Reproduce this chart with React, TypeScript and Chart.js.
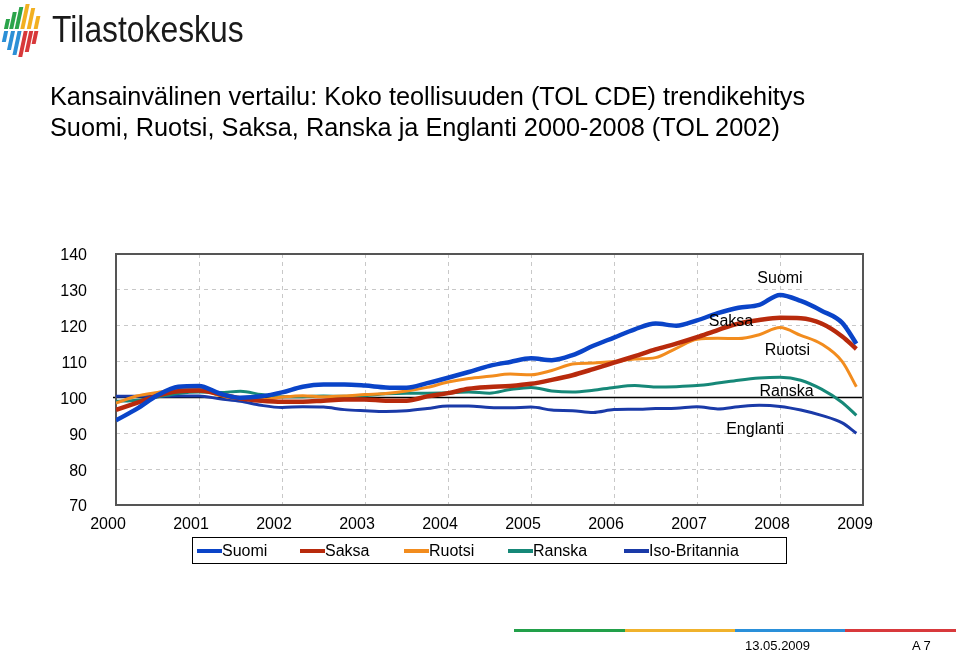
import React, { useEffect, useRef } from "react";
import { Chart, registerables } from "chart.js";

Chart.register(...registerables);

// ---- data -------------------------------------------------------------
const periods = [
  2000, 2000.25, 2000.5, 2000.75, 2001, 2001.25, 2001.5, 2001.75,
  2002, 2002.25, 2002.5, 2002.75, 2003, 2003.25, 2003.5, 2003.75,
  2004, 2004.25, 2004.5, 2004.75, 2005, 2005.25, 2005.5, 2005.75,
  2006, 2006.25, 2006.5, 2006.75, 2007, 2007.25, 2007.5, 2007.75,
  2008, 2008.25, 2008.5, 2008.75, 2008.92,
];

const suomi = [
  93.6, 96.8, 100.6, 103.0, 103.2, 101.1, 99.9, 100.3, 101.4, 103.0, 103.6, 103.6,
  103.3, 102.8, 102.7, 104.0, 105.5, 107.1, 108.8, 109.9, 110.9, 110.4, 111.8, 114.4,
  116.7, 119.0, 120.6, 120.0, 121.5, 123.5, 125.0, 125.8, 128.6, 126.9, 124.2, 120.8, 115.0,
];
const saksa = [
  96.5, 98.5, 100.5, 101.7, 101.9, 100.9, 99.7, 99.1, 98.8, 98.8, 99.1, 99.4,
  99.4, 99.1, 99.1, 100.3, 101.2, 102.4, 102.9, 103.2, 103.8, 104.9, 106.2, 107.9,
  109.7, 111.5, 113.4, 115.0, 116.8, 118.8, 120.6, 121.6, 122.2, 122.1, 120.6, 117.0, 113.5,
];
const ruotsi = [
  98.4, 100.4, 101.4, 102.2, 102.3, 100.5, 99.6, 99.4, 100.1, 100.5, 100.2, 100.4,
  100.8, 101.1, 101.8, 102.8, 104.3, 105.3, 105.9, 106.5, 106.3, 107.5, 109.3, 109.6,
  110.0, 110.7, 111.1, 113.7, 116.2, 116.5, 116.4, 117.5, 119.5, 117.3, 114.9, 110.0, 103.0,
];
const ranska = [
  98.9, 99.2, 100.1, 101.1, 101.5, 101.4, 101.7, 100.8, 100.2, 100.2, 100.4, 100.3,
  100.5, 101.0, 101.2, 101.2, 101.3, 101.5, 101.2, 102.2, 102.8, 101.8, 101.5, 102.0,
  102.8, 103.3, 102.9, 103.0, 103.3, 104.0, 104.8, 105.4, 105.6, 104.8, 102.3, 98.6, 95.0,
];
const englanti = [
  100.3, 100.3, 100.3, 100.4, 100.4, 99.6, 98.9, 97.8, 97.2, 97.4, 97.3, 96.6,
  96.3, 96.1, 96.3, 96.9, 97.6, 97.6, 97.2, 97.1, 97.3, 96.5, 96.3, 95.8,
  96.6, 96.7, 96.9, 97.0, 97.4, 96.8, 97.4, 97.8, 97.5, 96.5, 95.0, 92.9, 90.0,
];

const seriesNames = ["Suomi", "Saksa", "Ruotsi", "Ranska", "Iso-Britannia"];
const seriesValues = [suomi, saksa, ruotsi, ranska, englanti];
const seriesColors = ["#0a44c8", "#b82a0c", "#f28c1e", "#168878", "#1a3aa8"];
const seriesWidths = [4.5, 4.5, 3, 3, 3];

const yearTicks = [2000, 2001, 2002, 2003, 2004, 2005, 2006, 2007, 2008, 2009];
const valueTicks = [70, 80, 90, 100, 110, 120, 130, 140];

const lineLabels = ["Suomi", "Saksa", "Ruotsi", "Ranska", "Englanti"];
const lineLabelYears = [2008.0, 2007.41, 2008.09, 2008.08, 2007.7];
const lineLabelValues = [133.1, 121.1, 113.1, 101.5, 91.0];

const titleLines = [
  "Kansainvälinen vertailu: Koko teollisuuden (TOL CDE) trendikehitys",
  "Suomi, Ruotsi, Saksa, Ranska ja Englanti 2000-2008 (TOL 2002)",
];

const FONT = '"Liberation Sans", Arial, Helvetica, sans-serif';

const framePlugin = {
  id: "frame",
  beforeDatasetsDraw(chart: any) {
    const { ctx, chartArea: a, scales } = chart;
    const y100 = scales.y.getPixelForValue(100);
    ctx.save();
    ctx.strokeStyle = "#000";
    ctx.lineWidth = 1.5;
    ctx.beginPath();
    ctx.moveTo(a.left - 3, y100);
    ctx.lineTo(a.right, y100);
    ctx.stroke();
    ctx.strokeStyle = "#555";
    ctx.lineWidth = 2;
    ctx.strokeRect(a.left, a.top, a.right - a.left, a.bottom - a.top);
    ctx.restore();
  },
  afterDatasetsDraw(chart: any) {
    const { ctx, scales } = chart;
    ctx.save();
    ctx.fillStyle = "#000";
    ctx.font = "16px " + FONT;
    ctx.textAlign = "center";
    ctx.textBaseline = "middle";
    lineLabels.forEach((t, i) => {
      ctx.fillText(
        t,
        scales.x.getPixelForValue(lineLabelYears[i]),
        scales.y.getPixelForValue(lineLabelValues[i])
      );
    });
    ctx.restore();
  },
};

export default function App() {
  const ref = useRef<HTMLCanvasElement>(null);

  useEffect(() => {
    Chart.defaults.font.family = FONT;
    Chart.defaults.color = "#000";
    const chart = new Chart(ref.current as HTMLCanvasElement, {
      type: "line",
      data: {
        datasets: seriesNames.map((name, i) => ({
          label: name,
          data: periods.map((p, j) => ({ x: p, y: seriesValues[i][j] })),
          borderColor: seriesColors[i],
          backgroundColor: seriesColors[i],
          borderWidth: seriesWidths[i],
          pointRadius: 0,
          cubicInterpolationMode: "monotone" as const,
          fill: false,
        })),
      },
      options: {
        animation: false,
        responsive: false,
        devicePixelRatio: 1,
        layout: { padding: { left: 0, top: 254, right: 97, bottom: 117 } },
        plugins: {
          legend: { display: false },
          title: { display: false },
          tooltip: { enabled: false },
        },
        scales: {
          x: {
            type: "linear",
            min: 2000,
            max: 2009,
            afterBuildTicks: (s: any) => {
              s.ticks = yearTicks.map((v) => ({ value: v }));
            },
            afterFit: (s: any) => {
              s.height = 30;
              s.paddingLeft = 0;
              s.paddingRight = 0;
            },
            ticks: {
              callback: (v: any) => String(v),
              font: { size: 16 },
              color: "#000",
              padding: 10,
              labelOffset: -8,
              maxRotation: 0,
              autoSkip: false,
            },
            grid: { color: "#c8c8c8", lineWidth: 1, drawTicks: false },
            border: { display: false, dash: [4, 4] },
          },
          y: {
            min: 70,
            max: 140,
            afterBuildTicks: (s: any) => {
              s.ticks = valueTicks.map((v) => ({ value: v }));
            },
            afterFit: (s: any) => {
              s.width = 116;
              s.paddingTop = 0;
              s.paddingBottom = 0;
            },
            ticks: {
              font: { size: 16 },
              color: "#000",
              padding: 29,
              labelOffset: 2,
            },
            grid: { color: "#c8c8c8", lineWidth: 1, drawTicks: false },
            border: { display: false, dash: [4, 4] },
          },
        },
      },
      plugins: [framePlugin],
    });
    return () => chart.destroy();
  }, []);

  const logoBars = [
    { l: 5, t: 19, h: 10, c: "#2aa44a" },
    { l: 11, t: 12, h: 17, c: "#2aa44a" },
    { l: 17, t: 7, h: 22, c: "#2aa44a" },
    { l: 23, t: 4, h: 25, c: "#f2b020" },
    { l: 29, t: 8, h: 21, c: "#f2b020" },
    { l: 35, t: 16, h: 13, c: "#f2b020" },
    { l: 3, t: 31, h: 11, c: "#2b8fd6" },
    { l: 9, t: 31, h: 19, c: "#2b8fd6" },
    { l: 15, t: 31, h: 24, c: "#2b8fd6" },
    { l: 21, t: 31, h: 26, c: "#d8383a" },
    { l: 27, t: 31, h: 21, c: "#d8383a" },
    { l: 33, t: 31, h: 13, c: "#d8383a" },
  ];

  const legendItemLeft = [4, 107, 211, 315, 431];

  return (
    <div
      style={{
        position: "absolute",
        left: 0,
        top: 0,
        width: 960,
        height: 652,
        overflow: "hidden",
        background: "#fff",
        fontFamily: FONT,
        color: "#000",
      }}
    >
      <canvas
        ref={ref}
        width={960}
        height={652}
        style={{ position: "absolute", left: 0, top: 0 }}
      />
      {/* logo */}
      {logoBars.map((b, i) => (
        <div
          key={i}
          style={{
            position: "absolute",
            left: b.l,
            top: b.t,
            width: 4,
            height: b.h,
            background: b.c,
            transform: "skewX(-12deg)",
          }}
        />
      ))}
      <div
        style={{
          position: "absolute",
          left: 52,
          top: 8,
          fontSize: 37,
          lineHeight: "44px",
          color: "#1a1a1a",
          transform: "scaleX(0.86)",
          transformOrigin: "left top",
          whiteSpace: "nowrap",
        }}
      >
        Tilastokeskus
      </div>
      {/* title */}
      <div
        style={{
          position: "absolute",
          left: 50,
          top: 81,
          fontSize: 25.3,
          lineHeight: "31px",
          whiteSpace: "nowrap",
        }}
      >
        {titleLines.map((t, i) => (
          <div key={i}>{t}</div>
        ))}
      </div>
      {/* legend */}
      <div
        style={{
          position: "absolute",
          left: 192,
          top: 537,
          width: 595,
          height: 27,
          border: "1px solid #000",
          boxSizing: "border-box",
          fontSize: 16,
        }}
      >
        {seriesNames.map((n, i) => (
          <div
            key={n}
            style={{
              position: "absolute",
              left: legendItemLeft[i],
              top: 2,
              height: 21,
              display: "flex",
              alignItems: "center",
              whiteSpace: "nowrap",
            }}
          >
            <div style={{ width: 25, height: 4, background: seriesColors[i] }} />
            <span style={{ lineHeight: "20px" }}>{n}</span>
          </div>
        ))}
      </div>
      {/* footer */}
      <div style={{ position: "absolute", left: 514, top: 629, width: 111, height: 3, background: "#22a04a" }} />
      <div style={{ position: "absolute", left: 625, top: 629, width: 110, height: 3, background: "#f0b22c" }} />
      <div style={{ position: "absolute", left: 735, top: 629, width: 110, height: 3, background: "#2a90da" }} />
      <div style={{ position: "absolute", left: 845, top: 629, width: 111, height: 3, background: "#d8393c" }} />
      <div style={{ position: "absolute", left: 745, top: 638, fontSize: 13, lineHeight: "15px" }}>13.05.2009</div>
      <div style={{ position: "absolute", left: 912, top: 638, fontSize: 13, lineHeight: "15px" }}>A 7</div>
    </div>
  );
}
